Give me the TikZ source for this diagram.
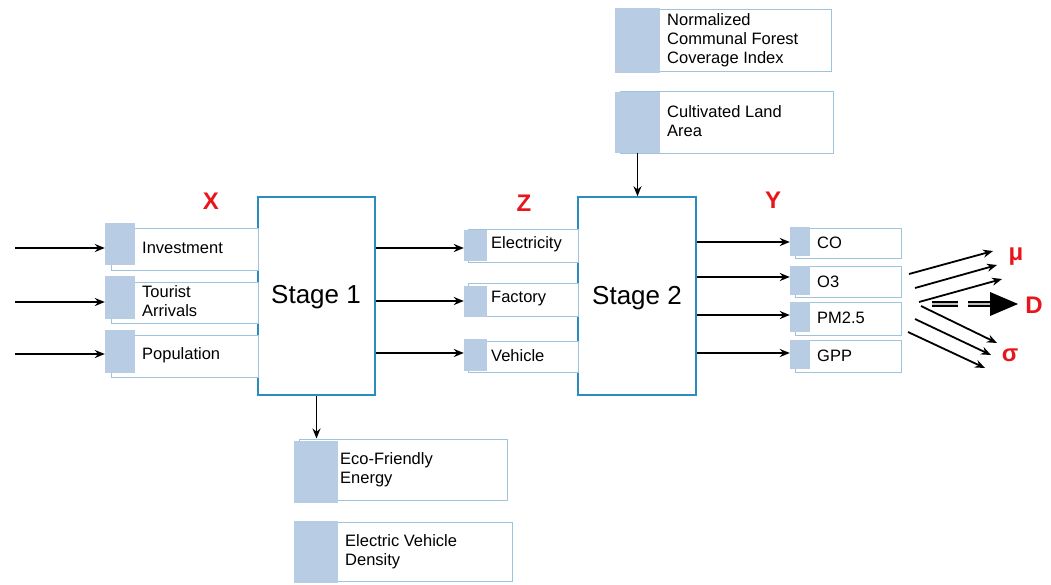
\documentclass[tikz,border=0pt]{standalone}
\usepackage{fontspec}
\setmainfont{Liberation Sans}
\usetikzlibrary{arrows.meta,fit,calc}
\definecolor{sqblue}{HTML}{B8CCE4}
\definecolor{rline}{HTML}{9EC3DC}
\definecolor{stline}{HTML}{2B8CBE}
\definecolor{lblred}{HTML}{E8161B}
\begin{document}
\begin{tikzpicture}[x=1pt,y=-1pt,
 rbox/.style={draw=rline, line width=1pt, fill=white, inner sep=0pt},
 sq/.style={fill=sqblue, draw=none, inner sep=0pt},
 stagebox/.style={draw=stline, line width=1.5pt, fill=white, inner sep=0pt},
 txt/.style={anchor=west, inner sep=0pt, font=\fontsize{16.5}{19}\selectfont, align=left},
 big/.style={font=\fontsize{26}{30}\selectfont},
 var/.style={text=lblred, font=\bfseries\fontsize{24}{26}\selectfont},
 arr/.style={-{Stealth[length=10pt,width=8pt]}, line width=1.8pt},
]
\useasboundingbox (0,0) rectangle (1051,584);

% Stage boxes
\node[stagebox, fit={(258,197) (375,395)}] (s1) {};
\node[big] (s1t) at (316,297) {Stage 1};
\node[stagebox, fit={(578,197) (696,395)}] (s2) {};
\node[big] (s2t) at (637,298) {Stage 2};

% X inputs
\node[rbox, fit={(111,228) (258,270)}] (invR) {};
\node[sq, fit={(105,223) (135,265)}] (invS) {};
\node[txt] (invT) at (142,248) {Investment};
\node[rbox, fit={(111,282) (258,323)}] (touR) {};
\node[sq, fit={(105,276) (135,319)}] (touS) {};
\node[txt] (touT) at (142,301) {Tourist\\Arrivals};
\node[rbox, fit={(111,335) (258,377)}] (popR) {};
\node[sq, fit={(105,330) (135,373)}] (popS) {};
\node[txt] (popT) at (142,355) {Population};

% Z intermediates
\node[rbox, fit={(468,229) (578,262)}] (eleR) {};
\node[sq, fit={(464,230) (487,261)}] (eleS) {};
\node[txt] (eleT) at (491,244) {Electricity};
\node[rbox, fit={(468,283) (578,316)}] (facR) {};
\node[sq, fit={(464,286) (487,317)}] (facS) {};
\node[txt] (facT) at (491,299) {Factory};
\node[rbox, fit={(468,341) (578,372)}] (vehR) {};
\node[sq, fit={(464,339) (487,371)}] (vehS) {};
\node[txt] (vehT) at (491,356) {Vehicle};

% Y outputs
\node[rbox, fit={(795,228) (901,258)}] (coR) {};
\node[sq, fit={(790,227) (810,256)}] (coS) {};
\node[txt] (coT) at (817,243) {CO};
\node[rbox, fit={(795,266) (901,297)}] (o3R) {};
\node[sq, fit={(790,266) (810,295)}] (o3S) {};
\node[txt] (o3T) at (817,282) {O3};
\node[rbox, fit={(795,302) (901,335)}] (pmR) {};
\node[sq, fit={(790,302) (810,332)}] (pmS) {};
\node[txt] (pmT) at (817,318) {PM2.5};
\node[rbox, fit={(795,340) (901,372)}] (gpR) {};
\node[sq, fit={(790,340) (810,369)}] (gpS) {};
\node[txt] (gpT) at (817,356) {GPP};

% top boxes
\node[rbox, fit={(620,9) (831,71)}] (nfR) {};
\node[sq, fit={(615,8) (660,73)}] (nfS) {};
\node[txt] (nfT) at (667,40) {Normalized\\Communal Forest\\Coverage Index};
\node[rbox, fit={(620,91) (833,153)}] (clR) {};
\node[sq, fit={(615,92) (660,153)}] (clS) {};
\node[txt] (clT) at (667,121) {Cultivated Land\\Area};

% bottom boxes
\node[rbox, fit={(299,439) (507,500)}] (ecR) {};
\node[sq, fit={(294,441) (338,503)}] (ecS) {};
\node[txt] (ecT) at (340,470) {Eco-Friendly\\Energy};
\node[rbox, fit={(299,522) (512,581)}] (evR) {};
\node[sq, fit={(294,521) (338,583)}] (evS) {};
\node[txt] (evT) at (345,552) {Electric Vehicle\\Density};

% variable labels
\node[var] (X) at (211,201) {X};
\node[var] (Z) at (524,203) {Z};
\node[var] (Y) at (773,200) {Y};
\node[var] (mu) at (1016,257) {μ};
\node[var] (D) at (1034,305) {D};
\node[var] (sig) at (1010,355) {σ};

% input arrows
\coordinate (xa) at (15,248);
\coordinate (xb) at (15,302);
\coordinate (xc) at (15,354);
\draw[arr] (xa) -- (xa -| invS.west);
\draw[arr] (xb) -- (xb -| touS.west);
\draw[arr] (xc) -- (xc -| popS.west);

% stage 1 to Z
\coordinate (za) at (0,248);
\coordinate (zb) at (0,301);
\coordinate (zc) at (0,353);
\draw[arr] (za -| s1.east) -- (za -| eleS.west);
\draw[arr] (zb -| s1.east) -- (zb -| facS.west);
\draw[arr] (zc -| s1.east) -- (zc -| vehS.west);

% stage 2 to Y
\coordinate (ya) at (0,242);
\coordinate (yb) at (0,277);
\coordinate (yc) at (0,315);
\coordinate (yd) at (0,353);
\draw[arr] (ya -| s2.east) -- (ya -| coS.west);
\draw[arr] (yb -| s2.east) -- (yb -| o3S.west);
\draw[arr] (yc -| s2.east) -- (yc -| pmS.west);
\draw[arr] (yd -| s2.east) -- (yd -| gpS.west);

% vertical arrows
\draw[arr] (clS.south) -- (clS.south |- s2.north);
\draw[arr] (s1.south) -- (s1.south |- ecR.north);

% fan arrows
\coordinate (m1a) at (909,274); \coordinate (m1b) at (993,251);
\coordinate (m2a) at (915,288); \coordinate (m2b) at (997,265);
\coordinate (m3a) at (919,302); \coordinate (m3b) at (1002,279);
\coordinate (s1a) at (921,306); \coordinate (s1b) at (997,343);
\coordinate (s2a) at (915,319); \coordinate (s2b) at (991,355);
\coordinate (s3a) at (908,332); \coordinate (s3b) at (985,368);
\draw[arr] (m1a) -- (m1b);
\draw[arr] (m2a) -- (m2b);
\draw[arr] (m3a) -- (m3b);
\draw[arr] (s1a) -- (s1b);
\draw[arr] (s2a) -- (s2b);
\draw[arr] (s3a) -- (s3b);

% D arrow
\coordinate (da) at (932,304);
\coordinate (db) at (992,304);
\coordinate (dc) at (1018,304);
\coordinate (dt) at (990,292);
\coordinate (du) at (990,316);
\draw[draw=black, double=gray!50, double distance=2pt, line width=1.8pt, dash pattern=on 26pt off 10pt] (da) -- (db);
\fill (dt) -- (dc) -- (du) -- cycle;
\end{tikzpicture}
\end{document}
